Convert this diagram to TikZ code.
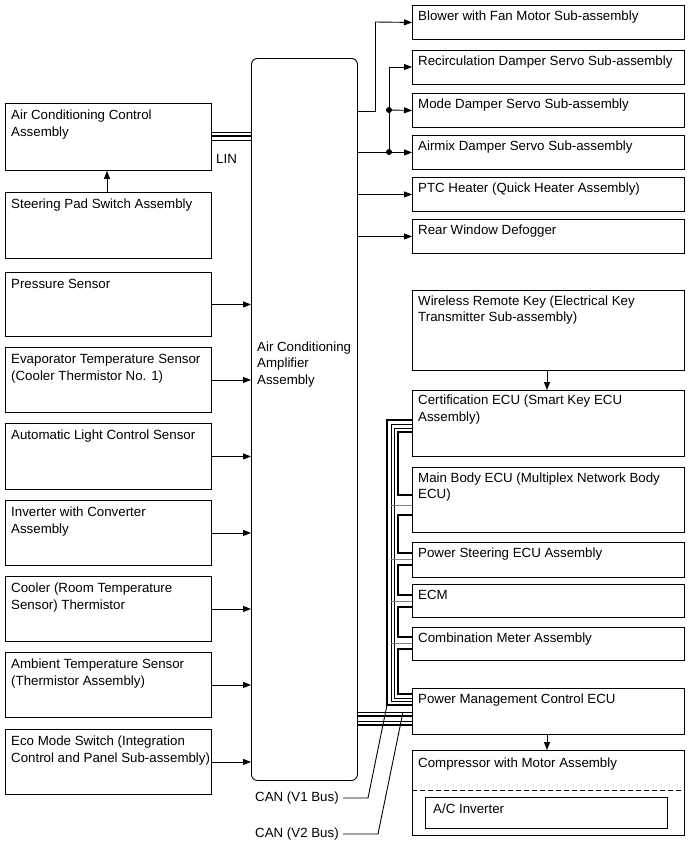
\documentclass[tikz,border=0pt]{standalone}
\usepackage{fontspec}
\setmainfont{Liberation Sans}
\usetikzlibrary{arrows.meta}
\tikzset{
  bx/.style={draw, line width=0.9pt, inner sep=0pt, anchor=north west},
  tx/.style={anchor=north west, inner sep=0pt, align=left, font=\fontsize{13.3}{16.5}\selectfont},
  ar/.style={line width=0.9pt, -{Triangle[length=8pt,width=6pt]}},
  ln/.style={line width=0.9pt},
  thk/.style={line width=2pt},
  thn/.style={line width=0.6pt},
  mid/.style={line width=1.5pt},
  dot/.style={circle, fill, inner sep=0pt, minimum size=6pt},
}
\newcommand\mybox[7]{%
  \node[bx, minimum width={#4pt-#2pt}, minimum height={#5pt-#3pt}] (#1) at (#2,#3) {};
  \node[tx] (#1t) at ([xshift=6pt,yshift=-#7pt]#1.north west) {\rule{0pt}{10pt}#6};
}
\begin{document}
\begin{tikzpicture}[x=1pt,y=-1pt]
\useasboundingbox (0,0) rectangle (689,854);

% amplifier
\node[bx, rounded corners=6pt, minimum width=106pt, minimum height=722pt] (amp) at (251,58) {};
\node[tx] (ampt) at ([xshift=6pt,yshift=-283pt]amp.north west) {\rule{0pt}{10pt}Air Conditioning\\Amplifier\\Assembly};

% left boxes
\mybox{acc}{5}{103}{211}{170}{Air Conditioning Control\\Assembly}{6.5}
\mybox{spd}{5}{192}{211}{258}{Steering Pad Switch Assembly}{6.5}
\mybox{prs}{5}{272}{211}{336}{Pressure Sensor}{6.5}
\mybox{evp}{5}{347}{211}{412}{Evaporator Temperature Sensor\\(Cooler Thermistor No. 1)}{6.5}
\mybox{als}{5}{423}{211}{489}{Automatic Light Control Sensor}{6.5}
\mybox{inv}{5}{500}{211}{565}{Inverter with Converter\\Assembly}{6.5}
\mybox{cool}{5}{576}{211}{641}{Cooler (Room Temperature\\Sensor) Thermistor}{6.5}
\mybox{amb}{5}{652}{211}{717}{Ambient Temperature Sensor\\(Thermistor Assembly)}{6.5}
\mybox{eco}{5}{729}{211}{794}{Eco Mode Switch (Integration\\Control and Panel Sub-assembly)}{6.5}

% right boxes
\mybox{blw}{412}{5}{684}{39}{Blower with Fan Motor Sub-assembly}{5}
\mybox{rec}{412}{50}{684}{84}{Recirculation Damper Servo Sub-assembly}{5}
\mybox{mod}{412}{93}{684}{127}{Mode Damper Servo Sub-assembly}{5}
\mybox{air}{412}{135}{684}{169}{Airmix Damper Servo Sub-assembly}{5}
\mybox{ptc}{412}{177}{684}{211}{PTC Heater (Quick Heater Assembly)}{5}
\mybox{rwd}{412}{219}{684}{253}{Rear Window Defogger}{5}
\mybox{wrk}{412}{290}{684}{370}{Wireless Remote Key (Electrical Key\\Transmitter Sub-assembly)}{5}
\mybox{cert}{412}{390}{684}{456}{Certification ECU (Smart Key ECU\\Assembly)}{4.5}
\mybox{mb}{412}{467}{684}{532}{Main Body ECU (Multiplex Network Body\\ECU)}{5}
\mybox{ps}{412}{542}{684}{577}{Power Steering ECU Assembly}{5}
\mybox{ecm}{412}{584}{684}{617}{ECM}{5}
\mybox{cm}{412}{627}{684}{660}{Combination Meter Assembly}{5}
\mybox{pmc}{412}{688}{684}{734}{Power Management Control ECU}{5}
\mybox{cmp}{412}{750}{684}{835}{Compressor with Motor Assembly}{7}
\node[bx, minimum width=242pt, minimum height=31pt] (aci) at (425,797) {};
\node[tx] (acit) at ([xshift=8pt,yshift=-6pt]aci.north west) {\rule{0pt}{10pt}A/C Inverter};
\draw[ln, dashed, dash pattern=on 5pt off 3pt] (cmp.west |- 0,790) -- (cmp.east |- 0,790);

% LIN
\draw[thn] (acc.east |- 0,132) -- (amp.west |- 0,132);
\draw[mid] (acc.east |- 0,136) -- (amp.west |- 0,136);
\draw[thn] (acc.east |- 0,140) -- (amp.west |- 0,140);
\node[tx] (lin) at (216,153) {\rule{0pt}{10pt}LIN};
\draw[ar] (spd.north -| 107,0) -- (acc.south -| 107,0);

% left inputs
\foreach \n in {prs,evp,als,inv,cool,amb,eco}
  \draw[ar] (\n.east) -- (\n.east -| amp.west);

% right outputs
\draw[ln] (amp.east |- 0,111) -- (375,111) -- (375,22);
\draw[ar] (375,22) -- (blw.west);
\draw[ar] (amp.east |- air.west) -- (air.west);
\draw[ln] (389,152) -- (389,67);
\draw[ar] (389,67) -- (rec.west |- 0,67);
\draw[ar] (389,110) -- (mod.west);
\node[dot] (d1) at (389,152) {};
\node[dot] (d2) at (389,110) {};
\draw[ar] (amp.east |- ptc.west) -- (ptc.west);
\draw[ar] (amp.east |- rwd.west) -- (rwd.west);
\draw[ar] (wrk.south -| 547,0) -- (cert.north -| 547,0);
\draw[ar] (pmc.south -| 547,0) -- (cmp.north -| 547,0);

% CAN buses
\draw[thk] (cert.west |- 0,420) -- (387,420) -- (387,705) -- (pmc.west |- 0,705);
\draw[thn] (cert.west |- 0,424) -- (391,424) -- (391,701) -- (pmc.west |- 0,701);
\draw[thn] (cert.west |- 0,428) -- (394,428) -- (394,698) -- (pmc.west |- 0,698);
\foreach \y/\a in {505/mb,559/ps,601/ecm,643/cm}
  \draw[thn, gray] (391,\y) -- (\a.west |- 0,\y);
\foreach \ya/\yb/\a/\b in {432/495/cert/mb,515/553/mb/ps,565/595/ps/ecm,607/637/ecm/cm,649/694/cm/pmc}
  \draw[mid] (\a.west |- 0,\ya) -- (398,\ya) -- (398,\yb) -- (\b.west |- 0,\yb);
\draw[thn] (amp.east |- 0,712) -- (pmc.west |- 0,712);
\draw[mid] (amp.east |- 0,716) -- (pmc.west |- 0,716);
\draw[thn] (amp.east |- 0,721) -- (pmc.west |- 0,721);
\draw[mid] (amp.east |- 0,725) -- (pmc.west |- 0,725);

\node[tx, anchor=west] (can1) at (255,798) {CAN (V1 Bus)};
\node[tx, anchor=west] (can2) at (255,834) {CAN (V2 Bus)};
\coordinate (c1) at (387,705);
\coordinate (c2) at (403,712);
\draw[ln] ([xshift=4pt]can1.east) -- (368,798) -- (c1);
\draw[ln] ([xshift=4pt]can2.east) -- (378,834) -- (c2);
\end{tikzpicture}
\end{document}
